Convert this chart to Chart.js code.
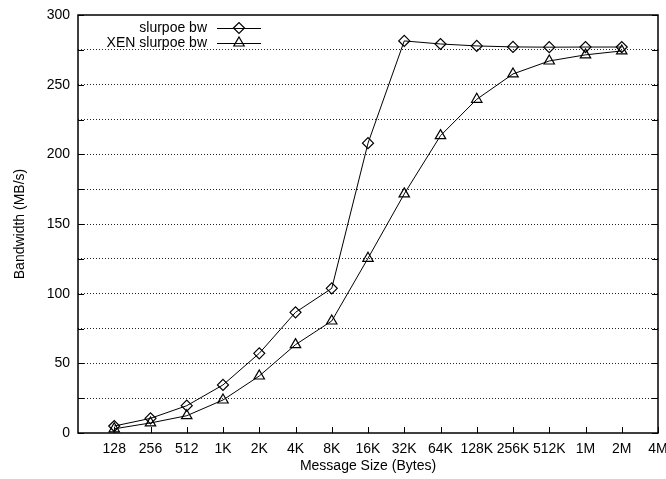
<!DOCTYPE html>
<html>
<head>
<meta charset="utf-8">
<script src="https://cdn.jsdelivr.net/npm/chart.js@4/dist/chart.umd.min.js"></script>
<style>
  html, body { margin: 0; padding: 0; background: #fff; }
  #wrap { width: 666px; height: 479px; }
</style>
</head>
<body>
<div id="wrap"><canvas id="myChart" width="666" height="479"></canvas></div>
<script>
// message sizes (x positions 1..16, 0 is the left edge)
var sizeLabels = ['128', '256', '512', '1K', '2K', '4K', '8K', '16K', '32K', '64K', '128K', '256K', '512K', '1M', '2M', '4M'];
var seriesNames = ['slurpoe bw', 'XEN slurpoe bw'];
var slurpoeBw = [5, 10.5, 19.6, 34.5, 57.2, 86.6, 103.8, 208, 281.4, 279.2, 277.8, 277.1, 276.9, 277, 277];
var xenSlurpoeBw = [3, 7.2, 12.4, 23.7, 40.9, 63.4, 80.4, 125.4, 171.6, 213.4, 239.5, 257.7, 267, 271.4, 274.2];
var yTicks = [0, 25, 50, 75, 100, 125, 150, 175, 200, 225, 250, 275, 300];

var font = 'Liberation Sans, Arial, Helvetica, sans-serif';

function toPoints(arr) {
  return arr.map(function (v, i) { return { x: i + 1, y: v }; });
}

// frame, inward tick marks and the legend drawn gnuplot style
var framePlugin = {
  id: 'frame',
  afterDraw: function (chart) {
    var ctx = chart.ctx;
    var a = chart.chartArea;
    var xs = chart.scales.x, ys = chart.scales.y;
    ctx.save();
    ctx.strokeStyle = '#000';
    ctx.lineWidth = 1.5;
    ctx.setLineDash([]);
    ctx.strokeRect(a.left, a.top, a.right - a.left, a.bottom - a.top);
    ctx.lineWidth = 1;
    ctx.beginPath();
    for (var i = 1; i <= sizeLabels.length; i++) {
      var px = Math.round(xs.getPixelForValue(i)) + 0.5;
      ctx.moveTo(px, a.bottom);
      ctx.lineTo(px, a.bottom - 6);
    }
    yTicks.forEach(function (v) {
      var py = Math.round(ys.getPixelForValue(v)) + 0.5;
      ctx.moveTo(a.right, py);
      ctx.lineTo(a.right - 6, py);
      ctx.moveTo(a.left, py);
      ctx.lineTo(a.left + 6, py);
    });
    ctx.stroke();

    // legend
    ctx.font = '14px ' + font;
    ctx.textAlign = 'right';
    ctx.textBaseline = 'middle';
    var styles = ['rectRot', 'triangle'];
    var radii = [5.5, 6];
    for (var k = 0; k < seriesNames.length; k++) {
      var ly = 28 + k * 15;
      ctx.fillStyle = '#000';
      ctx.fillText(seriesNames[k], 207, ly);
      ctx.beginPath();
      ctx.moveTo(217, ly + 0.5);
      ctx.lineTo(261, ly + 0.5);
      ctx.stroke();
      ctx.fillStyle = 'rgba(0,0,0,0)';
      ctx.lineWidth = 1.2;
      Chart.helpers.drawPoint(ctx, { pointStyle: styles[k], radius: radii[k], borderWidth: 1.2 }, 239, ly);
      ctx.lineWidth = 1;
    }
    ctx.restore();
  }
};

var ctx = document.getElementById('myChart').getContext('2d');
var myChart = new Chart(ctx, {
  type: 'line',
  data: {
    datasets: [{
      label: seriesNames[0],
      data: toPoints(slurpoeBw),
      borderColor: '#000',
      backgroundColor: 'rgba(0,0,0,0)',
      borderWidth: 1,
      pointStyle: 'rectRot',
      pointRadius: 5.5,
      pointBorderWidth: 1.2,
      pointBorderColor: '#000',
      pointBackgroundColor: 'rgba(0,0,0,0)'
    }, {
      label: seriesNames[1],
      data: toPoints(xenSlurpoeBw),
      borderColor: '#000',
      backgroundColor: 'rgba(0,0,0,0)',
      borderWidth: 1,
      pointStyle: 'triangle',
      pointRadius: 6,
      pointBorderWidth: 1.2,
      pointBorderColor: '#000',
      pointBackgroundColor: 'rgba(0,0,0,0)'
    }]
  },
  options: {
    responsive: false,
    animation: false,
    layout: { padding: { left: 0, right: 8, top: 15, bottom: 0 } },
    plugins: {
      legend: { display: false },
      tooltip: { enabled: false }
    },
    scales: {
      x: {
        type: 'linear',
        min: 0,
        max: 16,
        afterBuildTicks: function (scale) {
          scale.ticks = sizeLabels.map(function (s, i) { return { value: i + 1 }; });
        },
        afterFit: function (scale) {
          scale.height = 46;
          scale.paddingLeft = 0;
          scale.paddingRight = 0;
        },
        grid: { display: false, drawTicks: false },
        border: { display: false },
        ticks: {
          autoSkip: false,
          maxRotation: 0,
          padding: 8,
          color: '#000',
          font: { family: font, size: 14 },
          callback: function (v) { return sizeLabels[v - 1] || ''; }
        },
        title: {
          display: true,
          text: 'Message Size (Bytes)',
          color: '#000',
          font: { family: font, size: 14 },
          padding: { top: 0, bottom: 4 }
        }
      },
      y: {
        min: 0,
        max: 300,
        afterBuildTicks: function (scale) {
          scale.ticks = yTicks.map(function (v) { return { value: v }; });
        },
        afterFit: function (scale) {
          scale.width = 78;
          scale.paddingTop = 0;
          scale.paddingBottom = 0;
        },
        grid: {
          drawTicks: false,
          lineWidth: 1,
          color: function (c) {
            var v = c.tick ? c.tick.value : 0;
            return (v === 0 || v === 300) ? 'rgba(0,0,0,0)' : '#222';
          }
        },
        border: { display: false, dash: [1, 2] },
        ticks: {
          padding: 8,
          color: '#000',
          font: { family: font, size: 14 },
          callback: function (v) { return v % 50 === 0 ? String(v) : ''; }
        },
        title: {
          display: true,
          text: 'Bandwidth (MB/s)',
          color: '#000',
          font: { family: font, size: 14 },
          padding: { top: 12, bottom: 0 }
        }
      }
    }
  },
  plugins: [framePlugin]
});
</script>
</body>
</html>
